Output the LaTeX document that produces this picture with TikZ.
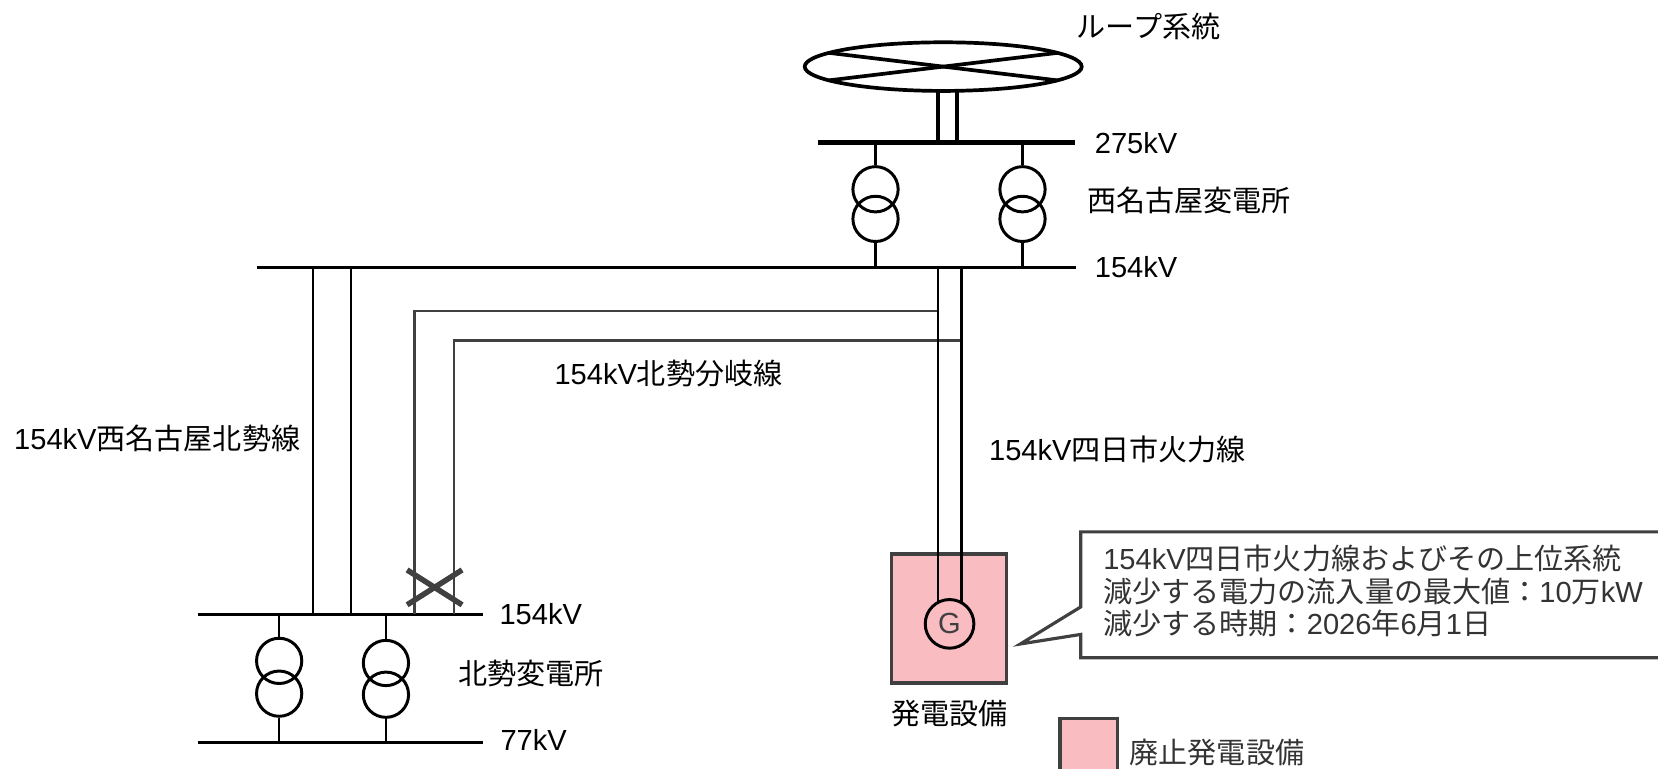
\documentclass[tikz,border=0pt]{standalone}
\usepackage{fontspec}
\setmainfont{Liberation Sans}
\newfontfamily\jp{Noto Sans CJK JP}
\usetikzlibrary{shapes.geometric}
\definecolor{pinkfill}{HTML}{F8BCC1}
\definecolor{dgray}{HTML}{404040}
\definecolor{tgray}{HTML}{333333}
\newcommand\J[1]{{\jp #1}}
\begin{document}
\begin{tikzpicture}[x=0.5pt,y=-0.5pt,
  lbl/.style={anchor=west,inner sep=0pt,font=\fontsize{13.75}{16}\selectfont},
  thinln/.style={line width=1.25pt,black},
  busln/.style={line width=1.5pt,black},
  heavybus/.style={line width=2.6pt,black},
  branchln/.style={line width=1.1pt,dgray},
  xfmr/.style={circle,draw,line width=1.4pt,minimum size=21.4pt,inner sep=0pt},
  pinkbox/.style={draw=dgray,fill=pinkfill,line width=1.5pt},
  crossln/.style={line width=2.6pt,dgray}]
\useasboundingbox (0,0) rectangle (1568,727);

% loop system
\node (loop) [ellipse,draw,line width=1.75pt,minimum width=131pt,minimum height=23pt,inner sep=0pt] at (892,63) {};
\coordinate (lx1) at (784,50); \coordinate (lx2) at (1000,76);
\coordinate (lx3) at (784,76); \coordinate (lx4) at (1000,50);
\draw[line width=1.75pt] (lx1) -- (lx2);
\draw[line width=1.75pt] (lx3) -- (lx4);
\node[lbl] (looplbl) at (1018,25) {\J{ループ系統}};

% 275kV bus
\coordinate (b275w) at (774,135); \coordinate (b275e) at (1017,135);
\draw[heavybus] (b275w) -- (b275e);
\node[lbl] (l275) at (1035,135) {275kV};
\coordinate (ld1t) at (887,86); \coordinate (ld1b) at (887,135);
\coordinate (ld2t) at (905,86); \coordinate (ld2b) at (905,135);
\draw[line width=2pt] (ld1t) -- (ld1b);
\draw[line width=2pt] (ld2t) -- (ld2b);

% Nishi-Nagoya transformers
\node[xfmr] (t1u) at (828,179) {};
\node[xfmr] (t1d) at (828,207) {};
\node[xfmr] (t2u) at (967,179) {};
\node[xfmr] (t2d) at (967,207) {};
\coordinate (t1top) at (828,135); \coordinate (t1bot) at (828,253);
\coordinate (t2top) at (967,135); \coordinate (t2bot) at (967,253);
\draw[thinln] (t1top) -- (t1u.north);
\draw[thinln] (t1d.south) -- (t1bot);
\draw[thinln] (t2top) -- (t2u.north);
\draw[thinln] (t2d.south) -- (t2bot);
\node[lbl] (nnlbl) at (1028,190) {\J{西名古屋変電所}};

% 154kV bus (Nishi-Nagoya)
\coordinate (b154w) at (243,253); \coordinate (b154e) at (1018,253);
\draw[busln] (b154w) -- (b154e);
\node[lbl] (l154a) at (1035,253) {154kV};

% Hokusei 154kV bus
\coordinate (h154w) at (187,581); \coordinate (h154e) at (457,581);
\draw[busln] (h154w) -- (h154e);
\node[lbl] (l154b) at (472,581) {154kV};

% Nishi-Nagoya Hokusei line
\coordinate (nh1t) at (296,253); \coordinate (nh1b) at (296,581);
\coordinate (nh2t) at (332,253); \coordinate (nh2b) at (332,581);
\draw[thinln] (nh1t) -- (nh1b);
\draw[thinln] (nh2t) -- (nh2b);
\node[lbl] (nhlbl) at (13,415) {154kV\J{西名古屋北勢線}};

% branch lines
\coordinate (br1s) at (887,294); \coordinate (br1c) at (392,294); \coordinate (br1e) at (392,581);
\coordinate (br2s) at (909,322); \coordinate (br2c) at (429.5,322); \coordinate (br2e) at (429.5,581);
\draw[branchln] (br1s) -- (br1c) -- (br1e);
\draw[branchln] (br2s) -- (br2c) -- (br2e);
\node[lbl] (brlbl) at (524,353) {154kV\J{北勢分岐線}};

% cross mark
\coordinate (cx1) at (385,539); \coordinate (cx2) at (437,572);
\coordinate (cx3) at (385,572); \coordinate (cx4) at (437,539);
\draw[crossln] (cx1) -- (cx2);
\draw[crossln] (cx3) -- (cx4);

% generator
\node[pinkbox,minimum width=54.5pt,minimum height=61pt,inner sep=0pt] (gbox) at (897.5,585) {};
\node[circle,draw,line width=1.4pt,minimum size=23pt,inner sep=0pt,text=dgray,font=\fontsize{13.75}{16}\selectfont] (gen) at (898,590) {G};
\coordinate (y1t) at (887,253); \coordinate (y1b) at (887,570);
\coordinate (y2t) at (909,253); \coordinate (y2b) at (909,570);
\draw[thinln] (y1t) -- (y1b);
\draw[thinln] (y2t) -- (y2b);
\node[lbl,anchor=center] (glbl) at (898,675) {\J{発電設備}};
\node[lbl] (ylbl) at (935,425) {154kV\J{四日市火力線}};

% Hokusei transformers
\node[xfmr] (t3u) at (264,625) {};
\node[xfmr] (t3d) at (264,656) {};
\node[xfmr] (t4u) at (365,627) {};
\node[xfmr] (t4d) at (365,657) {};
\coordinate (t3top) at (264,581); \coordinate (t3bot) at (264,702);
\coordinate (t4top) at (365,581); \coordinate (t4bot) at (365,702);
\draw[thinln] (t3top) -- (t3u.north);
\draw[thinln] (t3d.south) -- (t3bot);
\draw[thinln] (t4top) -- (t4u.north);
\draw[thinln] (t4d.south) -- (t4bot);
\node[lbl] (hslbl) at (433,637) {\J{北勢変電所}};

% 77kV bus
\coordinate (b77w) at (187,702); \coordinate (b77e) at (457,702);
\draw[busln] (b77w) -- (b77e);
\node[lbl] (l77) at (473,700) {77kV};

% callout
\coordinate (cb1) at (1022,574); \coordinate (cb2) at (1022,503);
\coordinate (cb3) at (1590,503); \coordinate (cb4) at (1590,622);
\coordinate (cb5) at (1022,622); \coordinate (cb6) at (1022,600);
\coordinate (ctip) at (965,609);
\draw[draw=dgray,fill=white,line width=1.5pt] (cb1) -- (cb2) -- (cb3) -- (cb4) -- (cb5) -- (cb6) -- (ctip) -- cycle;
\node[lbl,text=tgray] (c1) at (1043,528) {154kV\J{四日市火力線およびその上位系統}};
\node[lbl,text=tgray] (c2) at (1043,559) {\J{減少する電力の流入量の最大値：}10\J{万}kW};
\node[lbl,text=tgray] (c3) at (1043,590) {\J{減少する時期：}2026\J{年}6\J{月}1\J{日}};

% legend
\node[pinkbox,minimum width=27pt,minimum height=35pt,inner sep=0pt,anchor=north west] (leg) at (1001,678) {};
\node[lbl,text=tgray] (leglbl) at (1068,712) {\J{廃止発電設備}};
\end{tikzpicture}
\end{document}
